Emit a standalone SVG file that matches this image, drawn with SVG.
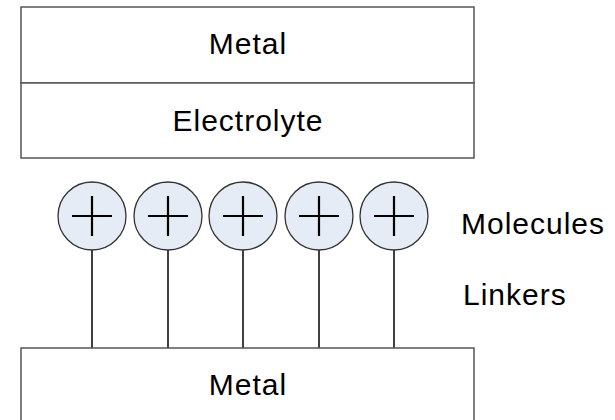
<svg xmlns="http://www.w3.org/2000/svg" width="615" height="420" viewBox="0 0 615 420">
<style>
.box{fill:#ffffff;stroke:#555555;stroke-width:1.5}
.mol{fill:#e6ecf6;stroke:#333333;stroke-width:1.3}
.cross{stroke:#000000;stroke-width:2.2;fill:none}
.link{stroke:#000000;stroke-width:1.5}
.t{font-family:"Liberation Sans",Arial,sans-serif;font-size:30px;fill:#000000;letter-spacing:1px}
</style>
<rect width="615" height="420" fill="#ffffff"/>
<g id="top-metal">
<rect class="box" x="21" y="7" width="453" height="76"/>
<text class="t" x="248" y="54" text-anchor="middle">Metal</text>
</g>
<g id="electrolyte">
<rect class="box" x="21" y="83" width="453" height="75"/>
<text class="t" x="248" y="131" text-anchor="middle">Electrolyte</text>
</g>
<g id="connectors">
<line class="link" x1="92" y1="250" x2="92" y2="348"/>
<line class="link" x1="168" y1="250" x2="168" y2="348"/>
<line class="link" x1="243" y1="250" x2="243" y2="348"/>
<line class="link" x1="319" y1="250" x2="319" y2="348"/>
<line class="link" x1="394" y1="250" x2="394" y2="348"/>
</g>
<g id="molecule1"><circle class="mol" cx="92" cy="216" r="34"/><path class="cross" d="M72 216H112M92 196V236"/></g>
<g id="molecule2"><circle class="mol" cx="168" cy="216" r="34"/><path class="cross" d="M148 216H188M168 196V236"/></g>
<g id="molecule3"><circle class="mol" cx="243" cy="216" r="34"/><path class="cross" d="M223 216H263M243 196V236"/></g>
<g id="molecule4"><circle class="mol" cx="319" cy="216" r="34"/><path class="cross" d="M299 216H339M319 196V236"/></g>
<g id="molecule5"><circle class="mol" cx="394" cy="216" r="34"/><path class="cross" d="M374 216H414M394 196V236"/></g>
<g id="bottom-metal">
<rect class="box" x="21" y="348" width="453" height="100"/>
<text class="t" x="248" y="395" text-anchor="middle">Metal</text>
</g>
<g id="label-molecules"><text class="t" x="461" y="234">Molecules</text></g>
<g id="label-linkers"><text class="t" x="463" y="305">Linkers</text></g>
</svg>
